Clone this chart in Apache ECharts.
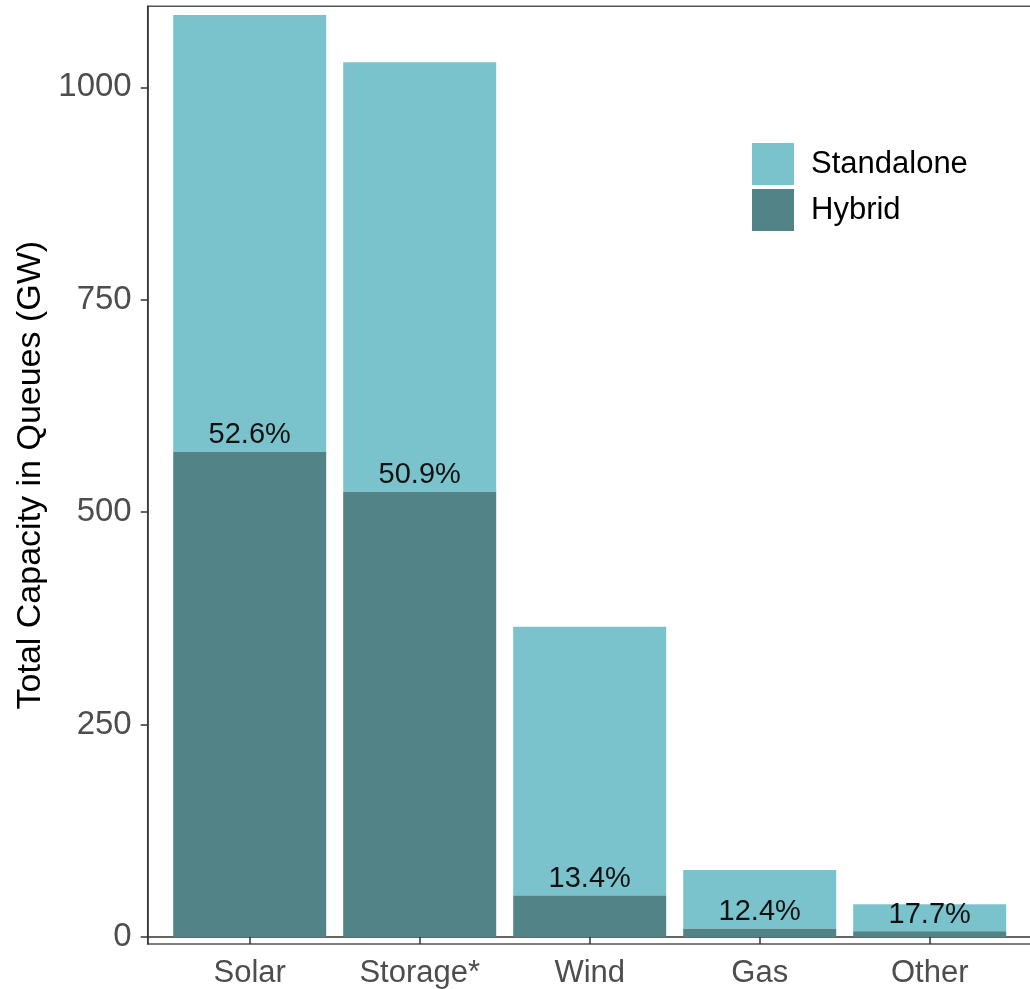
<!DOCTYPE html>
<html>
<head>
<meta charset="utf-8">
<script src="https://cdn.jsdelivr.net/npm/echarts@6/dist/echarts.min.js"></script>
<style>
  html, body { margin: 0; padding: 0; background: #fff; }
  #chart { width: 1030px; height: 989px; }
</style>
</head>
<body>
<div id="chart"></div>
<script>
// 类别与数据 (GW)
var categories = ['Solar', 'Storage*', 'Wind', 'Gas', 'Other'];
var hybrid = [571, 524, 49, 9.8, 6.8];
var standalone = [514, 505.5, 316.2, 69.1, 31.7];
var hybridShare = ['52.6%', '50.9%', '13.4%', '12.4%', '17.7%'];
var yTicks = [0, 250, 500, 750, 1000];

var myChart = echarts.init(document.getElementById('chart'));

var yMin = -8.2, yMax = 1095.3;
var axisColor = '#333';

var option = {
    animation: false,
    textStyle: { fontFamily: 'Liberation Sans, Arial, sans-serif' },
    // grid 0 画面板边框和纵轴，grid 1 放柱子(两侧各留 0.6 个类别宽)
    grid: [{
        left: 147.7,
        top: 6.3,
        width: 884,
        height: 937.7,
        outerBoundsMode: 'none',
        show: true,
        borderColor: '#555',
        borderWidth: 1.5
    }, {
        left: 164.7,
        top: 6.3,
        width: 850,
        height: 937.7,
        outerBoundsMode: 'none'
    }],
    legend: {
        orient: 'vertical',
        left: 752,
        top: 143,
        padding: 0,
        itemWidth: 42,
        itemHeight: 42,
        itemGap: 4,
        icon: 'rect',
        data: ['Standalone', 'Hybrid'],
        textStyle: { fontSize: 31, color: '#000', padding: [0, 0, 0, 12] }
    },
    xAxis: [{
        gridIndex: 0,
        type: 'value',
        min: 0,
        max: 1,
        splitLine: { show: false },
        axisLine: { show: true, lineStyle: { color: axisColor, width: 1.5 } },
        axisTick: { show: false },
        axisLabel: { show: false }
    }, {
        gridIndex: 1,
        type: 'category',
        data: categories,
        axisLine: { show: false },
        axisTick: { show: true, alignWithLabel: true, length: 7, lineStyle: { color: axisColor, width: 1.5 } },
        axisLabel: { margin: 14, fontSize: 31, color: '#4d4d4d' }
    }],
    yAxis: [{
        gridIndex: 0,
        type: 'value',
        min: yMin,
        max: yMax,
        name: 'Total Capacity in Queues (GW)',
        nameLocation: 'middle',
        nameRotate: 90,
        nameGap: 100,
        nameTextStyle: { fontSize: 34, color: '#000' },
        splitLine: { show: false },
        axisLine: { show: true, lineStyle: { color: axisColor, width: 1.5 } },
        axisTick: { show: true, length: 7, customValues: yTicks, lineStyle: { color: axisColor, width: 1.5 } },
        axisLabel: { customValues: yTicks, margin: 16, fontSize: 33, color: '#4d4d4d', formatter: function(v) { return String(v); } }
    }, {
        gridIndex: 1,
        type: 'value',
        min: yMin,
        max: yMax,
        show: false,
        splitLine: { show: false }
    }],
    series: [
        {
            name: 'Hybrid',
            type: 'bar',
            stack: 'total',
            xAxisIndex: 1,
            yAxisIndex: 1,
            barCategoryGap: '10%',
            itemStyle: { color: '#528487' },
            label: {
                show: true,
                position: 'top',
                distance: 2,
                fontSize: 29,
                color: '#111',
                formatter: function(p) { return hybridShare[p.dataIndex]; }
            },
            z: 3,
            data: hybrid
        },
        {
            name: 'Standalone',
            type: 'bar',
            stack: 'total',
            xAxisIndex: 1,
            yAxisIndex: 1,
            barCategoryGap: '10%',
            itemStyle: { color: '#7BC3CC' },
            z: 2,
            data: standalone
        }
    ]
};

myChart.setOption(option);
</script>
</body>
</html>
